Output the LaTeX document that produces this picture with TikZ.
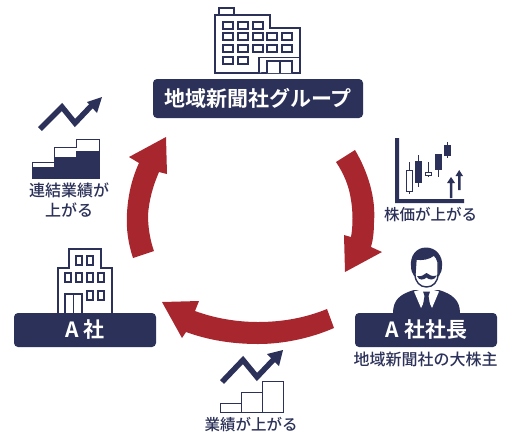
\documentclass[tikz,border=0pt]{standalone}
\usepackage{fontspec}
\newfontfamily\jp{Noto Sans CJK JP Medium}
\newfontfamily\jpb{Noto Sans CJK JP Bold}
\definecolor{navy}{HTML}{2B3158}
\definecolor{crim}{HTML}{A8272E}
\tikzset{
  x=1pt,y=-1pt,
  lbl/.style={fill=navy,rounded corners=4pt,draw=none},
  lt/.style={text=white,font=\jpb\fontsize{21}{21}\selectfont,inner sep=0pt},
  st/.style={text=navy,font=\jp\fontsize{15.5}{15.5}\selectfont,inner sep=0pt},
  bld/.style={draw=navy,line width=1.3pt,fill=white,line join=miter},
  win/.style={draw=navy,line width=1.3pt,fill=white},
  bigarrow/.style={fill=crim,draw=none},
  trend/.style={draw=navy,line width=5.5pt,line join=miter},
  step box/.style={draw=navy,line width=1pt,fill=white},
}
\begin{document}
\begin{tikzpicture}
\useasboundingbox (0,0) rectangle (508,432);
% Arrows
\fill[bigarrow] (355,150) .. controls (368,172) and (376,198) .. (374,222) .. controls (374,232) and (373,240) .. (371,247) -- (382,252) -- (345,272) -- (344,235) -- (351,237) .. controls (353,226) and (353,212) .. (351,200) .. controls (349,186) and (344,174) .. (336,162) -- cycle;
\fill[bigarrow] (327,309) .. controls (305,318) and (282,322) .. (258,322) .. controls (236,322) and (214,318) .. (195,311) -- (199,301) -- (162,302) -- (182,338) -- (186,332) .. controls (208,340) and (232,344) .. (258,344) .. controls (284,344) and (311,338) .. (334,328) -- cycle;
\fill[bigarrow] (133,258) .. controls (128,243) and (126,228) .. (127,213) .. controls (128,195) and (132,178) .. (139,163) -- (129,157) -- (166,137) -- (167,174) -- (159,172) .. controls (153,186) and (149,200) .. (148,215) .. controls (148,227) and (150,240) .. (154,251) -- cycle;
% Top building
\draw[bld] (219,15) rectangle (234,8);
\draw[bld] (215,73) -- (215,15) -- (270,15) -- (270,28) -- (300,28) -- (300,73) -- cycle;
\foreach \x/\y in {223/22,238/22,253/22,
  223/33,238/33,253/33,267/33,282/33,
  223/45,238/45,253/45,267/45,282/45,
  223/57,238/57}
  \draw[win] (\x,\y) rectangle ++(10,7);
\draw[bld] (259,73) -- (259,57.5) -- (300,57.5);
\draw[bld] (267,73) -- (267,61) -- (292,61) -- (292,73) (280,61) -- (280,73);
\node[lbl,minimum width=210pt,minimum height=39pt,inner sep=0pt] (grp) at (258,98.5) {};
\node[lt] at (grp.center) {地域新聞社グループ};
% Candlestick chart
\fill[navy] (395,138) rectangle (399,203) (395,199) rectangle (464,203);
\foreach \cx/\wt/\wb/\bt/\bb/\col in {409/162/194/170/191/white,418/155/187/161/182/navy,428.5/162/177/172/175/white,438/154/177/154/169/navy,447/142/158/145/155/navy}{
  \draw[navy,line width=1pt] (\cx,\wt) -- (\cx,\wb);
  \draw[navy,line width=1pt,fill=\col] (\cx-3,\bt) rectangle (\cx+3,\bb);
}
\fill[navy] (449.8,198) -- (449.8,183) -- (447,183) -- (451,177) -- (455,183) -- (452.4,183) -- (452.4,198) -- cycle;
\fill[navy] (458,190) -- (458,176) -- (455.5,176) -- (459.2,170) -- (463,176) -- (460.6,176) -- (460.6,190) -- cycle;
\node[st] (kabu) at (430.5,215) {株価が上がる};
% Man
\fill[navy] (393,313) .. controls (393,300) and (400,294) .. (414,290) -- (439,290) .. controls (452,294) and (460,300) .. (460,313) -- cycle;
\fill[navy] (426,247.5) .. controls (416,247.5) and (410,256) .. (411,266) .. controls (411,270) and (412,273) .. (414,276) -- (439,276) .. controls (441,273) and (442,270) .. (442,266) .. controls (443,256) and (436,247.5) .. (426,247.5) -- cycle;
\fill[white,draw=navy,line width=1.4pt] (416,259) .. controls (422,260) and (429,259) .. (434,255) .. controls (436,257) and (437.5,259) .. (438,262) -- (438,274) .. controls (438,282) and (433,287) .. (426.5,287) .. controls (420,287) and (415,282) .. (415,274) -- cycle;
\fill[navy] (426.5,273) .. controls (424,275) and (421,277) .. (417,276) .. controls (419,281) and (424,280) .. (426.5,277.5) .. controls (429,280) and (434,281) .. (437,275.5) .. controls (432,277) and (429,275) .. (426.5,273) -- cycle;
\fill[white] (414,291.5) -- (425,288.5) -- (428,288.5) -- (439,291.5) -- (432,308) -- (426.5,297) -- (421,308) -- cycle;
\fill[navy] (423,291.5) -- (430,291.5) -- (428.5,296) -- (431,311) -- (426.5,313) -- (422,311) -- (424.5,296) -- cycle;
\node[lbl,minimum width=142pt,minimum height=34pt,inner sep=0pt] (pres) at (426,330) {};
\node[lt] at (426.5,330) {A 社社長};
\node[st,font=\jp\fontsize{16}{16}\selectfont] (owner) at (425.5,359) {地域新聞社の大株主};
% A building
\draw[bld] (58,313) -- (58,268) -- (69,268) -- (69,249) -- (101,249) -- (101,268) -- (112,268) -- (112,313);
\foreach \x/\y in {76/256,87/256,65/273,76/273,87/273,98/273,87/291,98/291}
  \draw[win] (\x,\y) rectangle ++(6,9);
\draw[bld] (65,313) -- (65,294) -- (82,294) -- (82,313) (73.5,294) -- (73.5,313);
\node[lbl,minimum width=142pt,minimum height=34pt,inner sep=0pt] (asha) at (85,330) {};
\node[lt] at (85,330) {A 社};
% Bottom stairs
\draw[step box] (220,412) rectangle (241,403);
\draw[step box] (241,412) rectangle (262,392);
\draw[step box] (262,412) rectangle (283,381);
\draw[trend] (222,382) -- (243,360) -- (257,377) -- (275,358);
\fill[navy] (283,350) -- (267,354) -- (279,366) -- cycle;
\node[st] (gyo) at (251,425) {業績が上がる};
% Left stairs
\fill[navy] (32,167) rectangle (54,178) (54,157) rectangle (76,178) (76,151) rectangle (99,178);
\draw[navy,line width=1pt] (32,178) -- (32,162) -- (54,162) -- (54,147) -- (76,147) -- (76,139) -- (99,139) -- (99,178) -- cycle;
\draw[trend] (40,129) -- (62,107) -- (75,123) -- (94,103);
\fill[navy] (102,97) -- (87,102) -- (97,113) -- cycle;
\node[st,font=\jp\fontsize{16}{16}\selectfont] (ren1) at (69,190.5) {連結業績が};
\node[st,font=\jp\fontsize{16}{16}\selectfont] (ren2) at (69,210.5) {上がる};
\end{tikzpicture}
\end{document}
